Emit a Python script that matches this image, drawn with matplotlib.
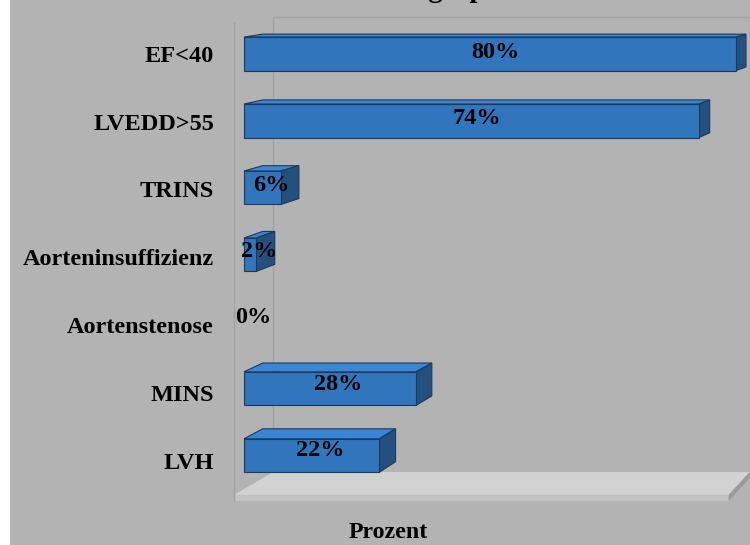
import matplotlib.pyplot as plt
from matplotlib.patches import Polygon, Rectangle

plt.rcParams['font.family'] = ['Liberation Serif', 'DejaVu Serif']
plt.rcParams['font.weight'] = 'bold'

# Befunde (von oben nach unten) und Anteil in Prozent
kategorien = ["EF<40", "LVEDD>55", "TRINS", "Aorteninsuffizienz",
              "Aortenstenose", "MINS", "LVH"]
prozent = [80, 74, 6, 2, 0, 28, 22]

titel = "Echokardiographie"
achse_titel = "Prozent"

# Farben
bg = '#b3b3b3'
blau_vorn = '#3176bc'
blau_oben = '#3a86d4'
blau_seite = '#24507f'
kante = '#1e3a5a'
boden_oben = '#d2d2d2'
boden_vorn = '#c2c2c2'
wand_linie = '#a2a2a2'
FS = 17.5

# Perspektive: Fluchtpunkt (Datenkoordinaten) und Tiefen
VX, VY = 172.4, -2.745
T_BALKEN = 0.0176      # Tiefe der Balken
T_VORN = -0.0094       # Vorderkante der Wände
T_HINTEN = 0.0274      # Rückwand
BALKEN_H = 0.5
X_MAX = 79.7
Y_OBEN, Y_BODEN, BODEN_DICKE = -0.49, 6.5, 0.09


def proj(x, y, t):
    return (x + t * (VX - x), y + t * (VY - y))


fig = plt.figure(figsize=(7.5, 5.45), dpi=100, facecolor='white')
# grauer Diagrammbereich, links ein schmaler weißer Rand
hg = fig.add_axes([10 / 750, 0, 740 / 750, 1], zorder=0)
hg.set_facecolor(bg)
hg.set_xticks([])
hg.set_yticks([])
for s in hg.spines.values():
    s.set_visible(False)

ax = fig.add_axes([234 / 750, 45 / 545, 516 / 750, 483 / 545], zorder=1)
ax.set_xlim(-1.626, 82.28)
ax.set_ylim(6.664, -0.5497)
ax.axis('off')

# Boden (Platte)
boden = [proj(0, Y_BODEN, T_VORN), proj(X_MAX, Y_BODEN, T_VORN),
         proj(X_MAX, Y_BODEN, T_HINTEN), proj(0, Y_BODEN, T_HINTEN)]
ax.add_patch(Polygon(boden, closed=True, facecolor=boden_oben,
                     edgecolor='none', zorder=1, clip_on=False))
vorn = [proj(0, Y_BODEN, T_VORN), proj(X_MAX, Y_BODEN, T_VORN),
        proj(X_MAX, Y_BODEN + BODEN_DICKE, T_VORN),
        proj(0, Y_BODEN + BODEN_DICKE, T_VORN)]
ax.add_patch(Polygon(vorn, closed=True, facecolor=boden_vorn,
                     edgecolor='none', zorder=1, clip_on=False))
seite = [proj(X_MAX, Y_BODEN, T_VORN), proj(X_MAX, Y_BODEN, T_HINTEN),
         proj(X_MAX, Y_BODEN + BODEN_DICKE, T_HINTEN),
         proj(X_MAX, Y_BODEN + BODEN_DICKE, T_VORN)]
ax.add_patch(Polygon(seite, closed=True, facecolor='#9a9a9a',
                     edgecolor='none', zorder=1, clip_on=False))


# Wandkanten
def linie(p, q):
    ax.plot([p[0], q[0]], [p[1], q[1]], color=wand_linie, lw=1,
            zorder=1, clip_on=False, solid_capstyle='butt')


linie(proj(0, Y_OBEN, T_HINTEN), proj(X_MAX, Y_OBEN, T_HINTEN))
linie(proj(0, Y_OBEN, T_HINTEN), proj(0, Y_BODEN, T_HINTEN))
linie(proj(X_MAX, Y_OBEN, T_HINTEN), proj(X_MAX, Y_BODEN, T_HINTEN))
linie(proj(0, Y_OBEN, T_VORN), proj(0, Y_BODEN + BODEN_DICKE, T_VORN))

# 3D-Balken
for i, (name, v) in enumerate(zip(kategorien, prozent)):
    oben, unten = i - BALKEN_H / 2, i + BALKEN_H / 2
    if v > 0:
        top = [(0, oben), (v, oben), proj(v, oben, T_BALKEN),
               proj(0, oben, T_BALKEN)]
        side = [(v, oben), (v, unten), proj(v, unten, T_BALKEN),
                proj(v, oben, T_BALKEN)]
        ax.add_patch(Polygon(top, closed=True, facecolor=blau_oben,
                             edgecolor=kante, lw=0.8, zorder=3))
        ax.add_patch(Polygon(side, closed=True, facecolor=blau_seite,
                             edgecolor=kante, lw=0.8, zorder=3))
        ax.add_patch(Rectangle((0, oben), v, BALKEN_H, facecolor=blau_vorn,
                               edgecolor=kante, lw=0.8, zorder=4))
    # Wertbeschriftung in der Mitte des Quaders
    xr = proj(v, unten, T_BALKEN)[0]
    yo = proj(0, oben, T_BALKEN)[1]
    ax.text((0 + xr) / 2, (yo + unten) / 2, f"{v}%", ha='center',
            va='center', fontsize=FS, fontweight='bold', zorder=5)
    # Kategorienbeschriftung
    ax.text(-4.88, proj(0, i, -0.013)[1], name, ha='right', va='center',
            fontsize=FS, fontweight='bold', clip_on=False)

fig.text(404 / 750, 1 + 3 / 545, titel, ha='center', va='baseline',
         fontsize=20.5, fontweight='bold')
fig.text(388 / 750, 1 - 532 / 545, achse_titel, ha='center', va='center',
         fontsize=17.2, fontweight='bold')

fig.savefig('out.png', dpi=100, facecolor=fig.get_facecolor())
